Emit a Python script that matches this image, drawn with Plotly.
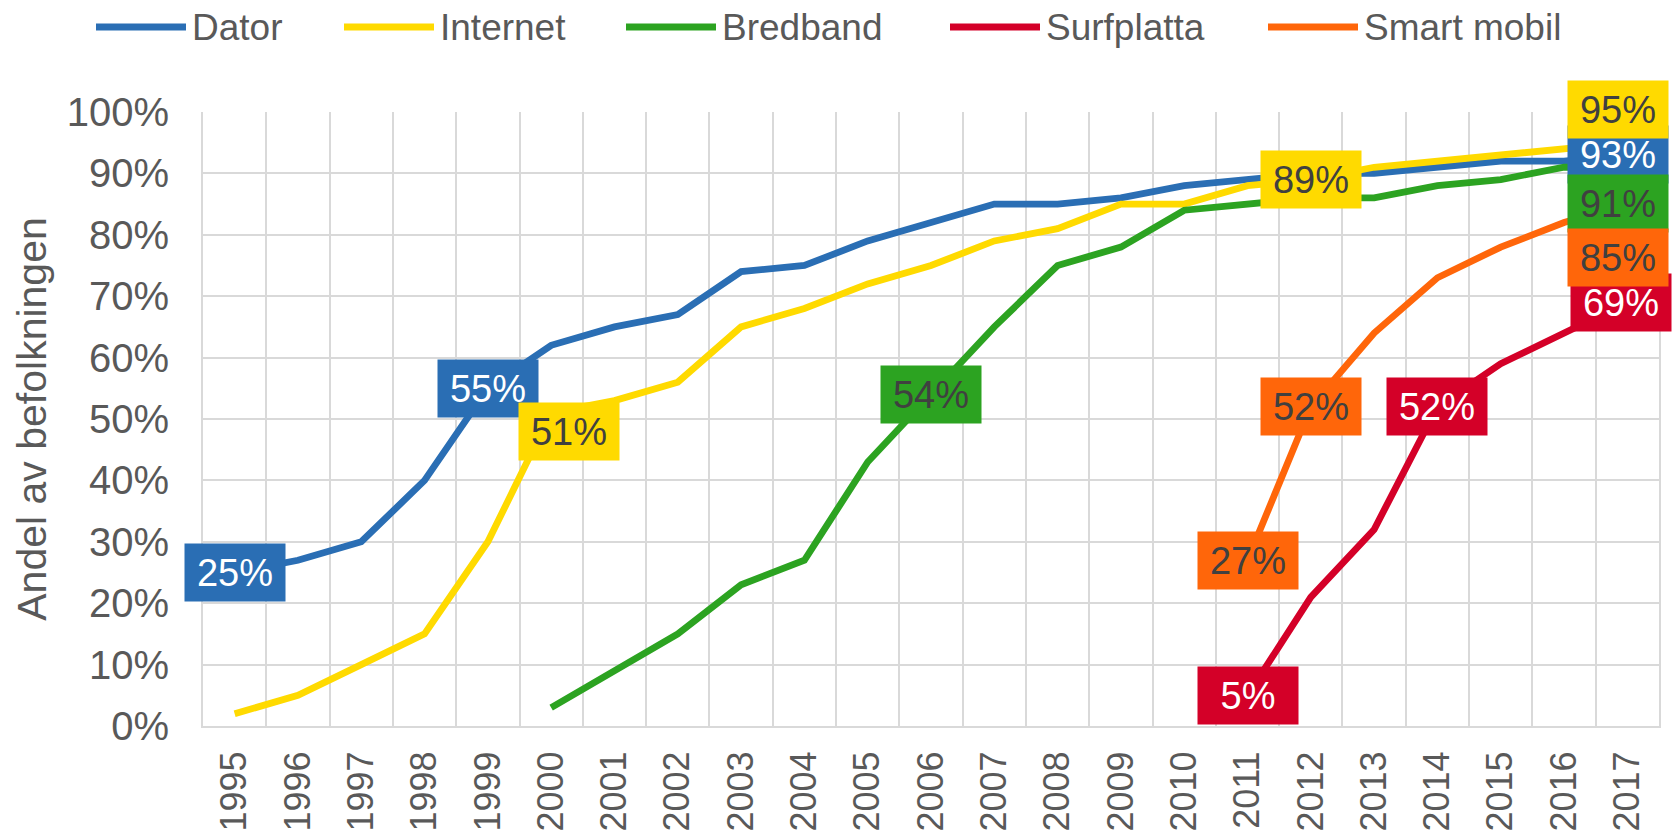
import plotly.graph_objects as go

years = [str(y) for y in range(1995, 2018)]

dator = [25, 27, 30, 40, 55, 62, 65, 67, 74, 75, 79, 82, 85, 85, 86, 88, 89, 90, 90, 91, 92, 92, 93]
internet = [2, 5, 10, 15, 30, 51, 53, 56, 65, 68, 72, 75, 79, 81, 85, 85, 88, 89, 91, 92, 93, 94, 95]
bredband_years = years[5:]
bredband = [3, 9, 15, 23, 27, 43, 54, 65, 75, 78, 84, 85, 86, 86, 88, 89, 91, 91]
surfplatta_years = years[16:]
surfplatta = [5, 21, 32, 52, 59, 64, 69]
mobil_years = years[16:]
smart_mobil = [27, 52, 64, 73, 78, 82, 85]

# name, x, y, line colour, label text colour
series = [
    ("Dator", years, dator, "#2A6EB4", "#FFFFFF"),
    ("Internet", years, internet, "#FFDA00", "#404040"),
    ("Bredband", bredband_years, bredband, "#2CA321", "#404040"),
    ("Surfplatta", surfplatta_years, surfplatta, "#D40028", "#FFFFFF"),
    ("Smart mobil", mobil_years, smart_mobil, "#FF660A", "#404040"),
]

# which points get a value box: (series, year, xshift, yshift) - drawn in this order
labels = [
    ("Dator", "1995", 0, 0),
    ("Dator", "1999", 0, 0),
    ("Internet", "2000", 18, -19),
    ("Bredband", "2006", 0, 0),
    ("Internet", "2012", 0, 0),
    ("Smart mobil", "2011", 0, 0),
    ("Smart mobil", "2012", 0, 0),
    ("Surfplatta", "2011", 0, 0),
    ("Surfplatta", "2014", 0, 0),
    ("Dator", "2017", -9, 0),
    ("Surfplatta", "2017", -6, 0),
    ("Internet", "2017", -9, 33),
    ("Bredband", "2017", -9, -36),
    ("Smart mobil", "2017", -9, -53),
]

W, H = 1673, 840
margin = dict(l=203, r=14, t=112, b=114)
plot_w = W - margin["l"] - margin["r"]
plot_h = H - margin["t"] - margin["b"]


def paper_x(px):
    return (px - margin["l"]) / plot_w


def paper_y(py):
    return (H - margin["b"] - py) / plot_h


FONT = "Arial, Liberation Sans, sans-serif"
GREY = "#595959"
GRID = "#D9D9D9"

fig = go.Figure()
lookup = {}
for name, xs, ys, color, txt in series:
    lookup[name] = (xs, ys, color, txt)
    fig.add_trace(go.Scatter(
        x=xs, y=ys, name=name, mode="lines",
        line=dict(color=color, width=6.8),
        showlegend=False,
    ))

annotations = []
for name, yr, dx, dy in labels:
    xs, ys, color, txt = lookup[name]
    v = ys[xs.index(yr)]
    annotations.append(dict(
        x=years.index(yr), y=v, xref="x", yref="y", text=f"{v}%", showarrow=False,
        xshift=dx, yshift=dy, bgcolor=color, borderpad=0,
        width=100, height=57, font=dict(family=FONT, size=38, color=txt),
    ))

# legend drawn by hand so the line samples are as long as in the original
legend_start = [96, 344, 626, 950, 1268]
shapes = []
for (name, xs, ys, color, txt), x0 in zip(series, legend_start):
    shapes.append(dict(
        type="line", xref="paper", yref="paper",
        x0=paper_x(x0), x1=paper_x(x0 + 90), y0=paper_y(27), y1=paper_y(27),
        line=dict(color=color, width=7),
    ))
    annotations.append(dict(
        x=paper_x(x0 + 94), y=paper_y(28), xref="paper", yref="paper",
        text=name, showarrow=False, xanchor="left", yanchor="middle",
        font=dict(family=FONT, size=37, color=GREY),
    ))

fig.update_layout(
    width=W, height=H, margin=margin,
    paper_bgcolor="white", plot_bgcolor="white",
    font=dict(family=FONT, color=GREY),
    shapes=shapes, annotations=annotations,
    xaxis=dict(
        type="category", categoryorder="array", categoryarray=years,
        tickson="boundaries", showgrid=True, gridcolor=GRID, gridwidth=2,
        ticks="", tickangle=-90, tickfont=dict(size=36, color=GREY),
        ticklabelstandoff=9, showline=True, linecolor=GRID, linewidth=2,
        range=[-0.5, len(years) - 0.5], automargin=False,
    ),
    yaxis=dict(
        range=[0, 100], dtick=10, ticksuffix="%", showgrid=True,
        gridcolor=GRID, gridwidth=2, zeroline=False,
        showline=True, mirror=True, linecolor=GRID, linewidth=2,
        tickfont=dict(size=40, color=GREY), ticklabelstandoff=24,
        title=dict(text="Andel av befolkningen", font=dict(size=41, color=GREY), standoff=7),
        automargin=False,
    ),
)

fig.write_html("out.html", config={"displayModeBar": False},
               post_script="document.body.style.margin='0';")
